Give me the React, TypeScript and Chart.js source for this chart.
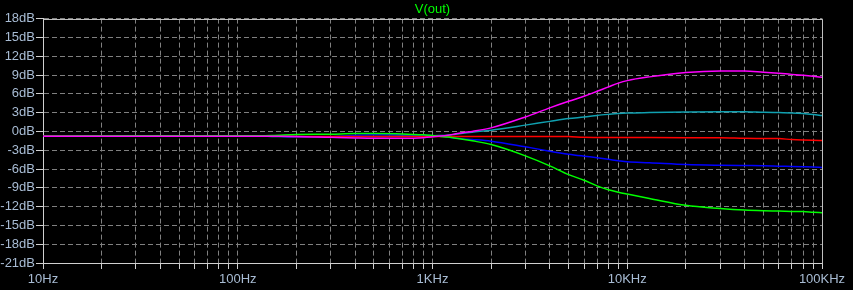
import { useEffect, useRef } from 'react';
import { Chart, registerables } from 'chart.js';

Chart.register(...registerables);

// Frequencies (Hz) sampled along the sweep
const frequencies = [
  10, 30, 100, 150, 200, 300, 400, 500, 700, 900, 1100, 1200, 1300, 1430, 1600, 2000, 3000, 4000, 5000,
  6000, 7000, 8000, 9000, 10000, 13000, 20000, 30000, 40000, 50000, 60000, 70000, 80000, 90000, 100000,
];

// Magnitude in dB per trace
const magentaDb = [
  -0.76, -0.76, -0.76, -0.77, -0.8, -0.95, -1.05, -1.1, -1.1, -1.0, -0.75, -0.6, -0.42, -0.2, 0.0, 0.56, 2.3, 3.75, 4.8,
  5.6, 6.4, 7.1, 7.7, 8.1, 8.7, 9.4, 9.65, 9.65, 9.45, 9.27, 9.1, 8.95, 8.8, 8.64,
];
const cyanDb = [
  -0.76, -0.76, -0.76, -0.8, -0.85, -0.85, -0.8, -0.8, -0.75, -0.7, -0.65, -0.6, -0.48, -0.3, -0.12, 0.2, 1.0, 1.6, 2.05,
  2.3, 2.55, 2.72, 2.85, 2.92, 3.0, 3.1, 3.15, 3.15, 3.06, 3.0, 2.95, 2.85, 2.7, 2.53,
];
const redDb = [
  -0.78, -0.78, -0.78, -0.78, -0.8, -0.8, -0.8, -0.8, -0.8, -0.8, -0.8, -0.8, -0.8, -0.8, -0.8, -0.8, -0.8, -0.8, -0.82,
  -0.95, -0.97, -0.98, -0.98, -0.98, -0.99, -1.0, -1.0, -1.1, -1.12, -1.15, -1.3, -1.38, -1.43, -1.45,
];
const blueDb = [
  -0.76, -0.76, -0.76, -0.75, -0.85, -0.85, -0.6, -0.55, -0.55, -0.6, -0.75, -0.9, -1.05, -1.2, -1.3, -1.56, -2.46, -3.15, -3.63,
  -3.95, -4.2, -4.45, -4.68, -4.86, -5.0, -5.28, -5.4, -5.45, -5.48, -5.55, -5.6, -5.65, -5.7, -5.76,
];
const greenDb = [
  -0.76, -0.7, -0.7, -0.65, -0.5, -0.45, -0.35, -0.35, -0.4, -0.55, -0.8, -0.9, -1.05, -1.24, -1.5, -2.1, -3.9, -5.5, -6.9,
  -7.8, -8.7, -9.3, -9.7, -10.0, -10.7, -11.8, -12.3, -12.56, -12.67, -12.72, -12.77, -12.8, -12.9, -12.98,
];

const xTickValues = [10, 100, 1000, 10000, 100000];
const xTickLabels = ['10Hz', '100Hz', '1KHz', '10KHz', '100KHz'];
const yTickValues = [18, 15, 12, 9, 6, 3, 0, -3, -6, -9, -12, -15, -18, -21];
const yTickLabels = ['18dB', '15dB', '12dB', '9dB', '6dB', '3dB', '0dB', '-3dB', '-6dB', '-9dB', '-12dB', '-15dB', '-18dB', '-21dB'];

const series = [
  { label: 'magenta', color: '#ff00ff', values: magentaDb },
  { label: 'green', color: '#00ff00', values: greenDb },
  { label: 'red', color: '#ff0000', values: redDb },
  { label: 'blue', color: '#0000ff', values: blueDb },
  { label: 'cyan', color: '#10a0b0', values: cyanDb },
];

const LABEL_COLOR = '#a8bcd4';
const GRID_COLOR = '#808080';
const AXIS_COLOR = '#d0d0d0';

export default function App() {
  const ref = useRef<HTMLCanvasElement>(null);

  useEffect(() => {
    document.body.style.margin = '0';
    document.body.style.background = '#000';
    const canvas = ref.current;
    if (!canvas) return;

    const frame = {
      id: 'frame',
      afterDraw(chart: any) {
        const { ctx, chartArea } = chart;
        ctx.save();
        ctx.strokeStyle = '#c0c0c0';
        ctx.lineWidth = 1;
        ctx.beginPath();
        ctx.moveTo(Math.round(chartArea.left) + 0.5, Math.round(chartArea.top) + 0.5);
        ctx.lineTo(Math.round(chartArea.right) + 0.5, Math.round(chartArea.top) + 0.5);
        ctx.lineTo(Math.round(chartArea.right) + 0.5, Math.round(chartArea.bottom) + 0.5);
        ctx.stroke();
        ctx.restore();
      },
    };

    const chart = new Chart(canvas, {
      type: 'line',
      data: {
        datasets: series.map((s) => ({
          label: s.label,
          data: frequencies.map((f, i) => ({ x: f, y: s.values[i] })),
          borderColor: s.color,
          backgroundColor: s.color,
          borderWidth: 1.5,
          pointRadius: 0,
          cubicInterpolationMode: 'monotone' as const,
          fill: false,
        })),
      },
      options: {
        animation: false,
        responsive: false,
        devicePixelRatio: 1,
        layout: { padding: { left: 0, right: 31, top: 0, bottom: 0 } },
        plugins: {
          legend: { display: false },
          tooltip: { enabled: false },
          title: {
            display: true,
            text: 'V(out)',
            color: '#00ff00',
            fullSize: false,
            font: { family: 'Liberation Sans', size: 13, weight: 'normal' },
            padding: { top: 2, bottom: 1 },
          },
        },
        scales: {
          x: {
            type: 'logarithmic',
            min: 10,
            max: 100000,
            afterBuildTicks: (scale: any) => {
              const ticks: { value: number }[] = [];
              for (const d of xTickValues.slice(0, -1)) {
                for (let m = 1; m < 10; m++) ticks.push({ value: d * m });
              }
              ticks.push({ value: xTickValues[xTickValues.length - 1] });
              scale.ticks = ticks;
            },
            afterFit: (scale: any) => {
              scale.height = 27;
            },
            ticks: {
              autoSkip: false,
              maxRotation: 0,
              minRotation: 0,
              padding: 3,
              color: LABEL_COLOR,
              font: { family: 'Liberation Sans', size: 13 },
              callback: (value: any) => {
                const i = xTickValues.indexOf(Number(value));
                return i >= 0 ? xTickLabels[i] : '';
              },
            },
            grid: {
              color: GRID_COLOR,
              lineWidth: 1,
              drawTicks: true,
              tickLength: 6,
              tickColor: AXIS_COLOR,
              tickBorderDash: [],
            },
            border: { display: true, color: AXIS_COLOR, width: 1, dash: [5, 3] },
          },
          y: {
            type: 'linear',
            min: -21,
            max: 18,
            afterFit: (scale: any) => {
              scale.width = 43;
            },
            ticks: {
              stepSize: 3,
              padding: 1,
              color: LABEL_COLOR,
              font: { family: 'Liberation Sans', size: 13 },
              callback: (value: any) => {
                const i = yTickValues.indexOf(Number(value));
                return i >= 0 ? yTickLabels[i] : '';
              },
            },
            grid: {
              color: GRID_COLOR,
              lineWidth: 1,
              drawTicks: true,
              tickLength: 7,
              tickColor: AXIS_COLOR,
              tickBorderDash: [],
            },
            border: { display: true, color: AXIS_COLOR, width: 1, dash: [5, 3] },
          },
        },
      },
      plugins: [frame],
    });

    return () => chart.destroy();
  }, []);

  return (
    <div style={{ width: 853, height: 290, background: '#000' }}>
      <canvas ref={ref} width={853} height={290} style={{ display: 'block' }} />
    </div>
  );
}
